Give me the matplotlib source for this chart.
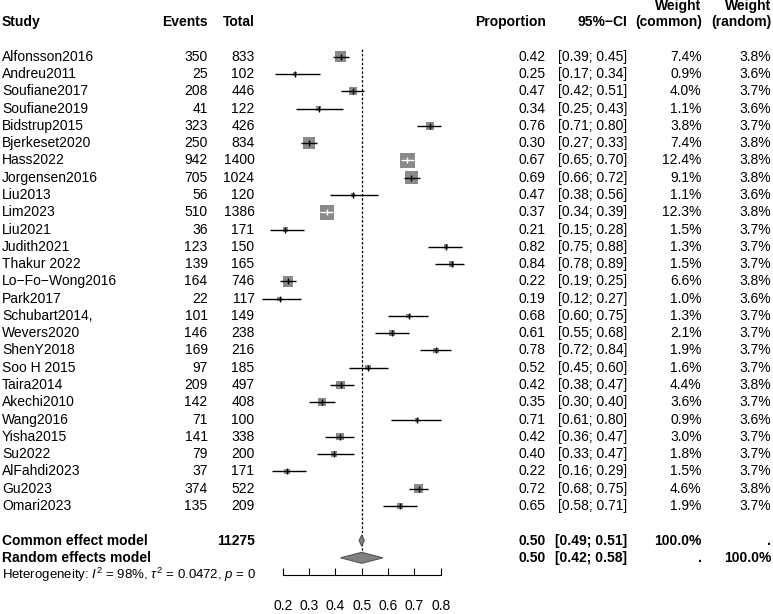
import numpy as np
import matplotlib
matplotlib.use("Agg")
import matplotlib.pyplot as plt

plt.rcParams['font.family'] = ['Liberation Sans', 'DejaVu Sans']
plt.rcParams['mathtext.fontset'] = 'custom'
plt.rcParams['mathtext.rm'] = 'Liberation Sans'
plt.rcParams['mathtext.it'] = 'Liberation Sans:italic'

studies = ["Alfonsson2016", "Andreu2011", "Soufiane2017", "Soufiane2019", "Bidstrup2015",
           "Bjerkeset2020", "Hass2022", "Jorgensen2016", "Liu2013", "Lim2023", "Liu2021",
           "Judith2021", "Thakur 2022", "Lo\u2212Fo\u2212Wong2016", "Park2017", "Schubart2014,",
           "Wevers2020", "ShenY2018", "Soo H 2015", "Taira2014", "Akechi2010", "Wang2016",
           "Yisha2015", "Su2022", "AlFahdi2023", "Gu2023", "Omari2023"]
events = [350, 25, 208, 41, 323, 250, 942, 705, 56, 510, 36, 123, 139, 164, 22, 101,
          146, 169, 97, 209, 142, 71, 141, 79, 37, 374, 135]
totals = [833, 102, 446, 122, 426, 834, 1400, 1024, 120, 1386, 171, 150, 165, 746, 117, 149,
          238, 216, 185, 497, 408, 100, 338, 200, 171, 522, 209]
ci_low = [0.39, 0.17, 0.42, 0.25, 0.71, 0.27, 0.65, 0.66, 0.38, 0.34, 0.15, 0.75, 0.78, 0.19,
          0.12, 0.60, 0.55, 0.72, 0.45, 0.38, 0.30, 0.61, 0.36, 0.33, 0.16, 0.68, 0.58]
ci_high = [0.45, 0.34, 0.51, 0.43, 0.80, 0.33, 0.70, 0.72, 0.56, 0.39, 0.28, 0.88, 0.89, 0.25,
           0.27, 0.75, 0.68, 0.84, 0.60, 0.47, 0.40, 0.80, 0.47, 0.47, 0.29, 0.75, 0.71]
w_common = [7.4, 0.9, 4.0, 1.1, 3.8, 7.4, 12.4, 9.1, 1.1, 12.3, 1.5, 1.3, 1.5, 6.6, 1.0, 1.3,
            2.1, 1.9, 1.6, 4.4, 3.6, 0.9, 3.0, 1.8, 1.5, 4.6, 1.9]
w_random = [3.8, 3.6, 3.7, 3.6, 3.7, 3.8, 3.8, 3.8, 3.6, 3.8, 3.7, 3.7, 3.7, 3.8, 3.6, 3.7,
            3.7, 3.7, 3.7, 3.8, 3.7, 3.6, 3.7, 3.7, 3.7, 3.8, 3.7]

common_est, common_lo, common_hi = 0.50, 0.49, 0.51
random_est, random_lo, random_hi = 0.50, 0.42, 0.58
total_n = 11275
i2, tau2, pval = 98, 0.0472, 0
xticks = [0.2, 0.3, 0.4, 0.5, 0.6, 0.7, 0.8]

W, H = 773, 614
fig = plt.figure(figsize=(W / 100, H / 100), dpi=100)
ax = fig.add_axes([0, 0, 1, 1])

# pixel layout: 0.2 -> 282.7px, 0.8 -> 440.7px ; row 0 -> 56.7px, 17.28px per row
ppu = (440.7 - 282.7) / 0.6
ax.set_xlim(0.2 - 282.7 / ppu, 0.2 + (W - 282.7) / ppu)
row_h = 17.28
ax.set_ylim((H - 56.7) / row_h, -56.7 / row_h)

props = np.array(events) / np.array(totals)
rows = np.arange(len(studies))
fs = 10
tx = ax.get_yaxis_transform()


def px(x):
    return x / W


# headers
ax.text(px(2), -2, "Study", transform=tx, fontsize=fs, fontweight='bold', va='center', ha='left')
ax.text(px(207.5), -2, "Events", transform=tx, fontsize=fs, fontweight='bold', va='center', ha='right')
ax.text(px(254.5), -2, "Total", transform=tx, fontsize=fs, fontweight='bold', va='center', ha='right')
ax.text(px(545.5), -2, "Proportion", transform=tx, fontsize=fs, fontweight='bold', va='center', ha='right')
ax.text(px(627), -2, "95%\u2212CI", transform=tx, fontsize=fs, fontweight='bold', va='center', ha='right')
ax.text(px(701.7), -2.95, "Weight", transform=tx, fontsize=fs, fontweight='bold', va='center', ha='right')
ax.text(px(701.7), -2, "(common)", transform=tx, fontsize=fs, fontweight='bold', va='center', ha='right')
ax.text(px(771.5), -2.95, "Weight", transform=tx, fontsize=fs, fontweight='bold', va='center', ha='right')
ax.text(px(771.5), -2, "(random)", transform=tx, fontsize=fs, fontweight='bold', va='center', ha='right')

# study rows
for i, r in enumerate(rows):
    ax.text(px(2), r, studies[i], transform=tx, fontsize=fs, va='center', ha='left')
    ax.text(px(207.5), r, str(events[i]), transform=tx, fontsize=fs, va='center', ha='right')
    ax.text(px(254.5), r, str(totals[i]), transform=tx, fontsize=fs, va='center', ha='right')
    ax.text(px(545.5), r, f"{props[i]:.2f}", transform=tx, fontsize=fs, va='center', ha='right')
    ax.text(px(627), r, f"[{ci_low[i]:.2f}; {ci_high[i]:.2f}]", transform=tx, fontsize=fs,
            va='center', ha='right')
    ax.text(px(701.7), r, f"{w_common[i]:.1f}%", transform=tx, fontsize=fs, va='center', ha='right')
    ax.text(px(771.5), r, f"{w_random[i]:.1f}%", transform=tx, fontsize=fs, va='center', ha='right')

# squares, sized by common-effect weight
side_px = 4.2 * np.sqrt(np.array(w_common))
ax.scatter(props, rows, marker='s', s=(side_px * 0.72) ** 2, color='#8a8a8a', lw=0, zorder=3)
for i, r in enumerate(rows):
    inside = (ci_high[i] - ci_low[i]) * ppu < side_px[i]
    c = 'white' if inside else 'black'
    ax.hlines(r, ci_low[i], ci_high[i], color=c, lw=1, zorder=4)
    ax.plot(props[i], r, marker='|', ms=4, mew=1, color=c, zorder=5)

# pooled rows
r_c = len(studies) + 1
r_r = r_c + 1
ax.vlines(common_est, -0.45, r_r, color='black', lw=0.9, linestyles=(0, (2, 1.5)), zorder=2)

dh = 5.5 / row_h
for r, est, lo, hi in [(r_c, common_est, common_lo, common_hi), (r_r, random_est, random_lo, random_hi)]:
    ax.fill([lo, est, hi, est], [r, r - dh, r, r + dh], facecolor='#808080',
            edgecolor='#555555', lw=0.8, zorder=6)

ax.text(px(2), r_c, "Common effect model", transform=tx, fontsize=fs, fontweight='bold', va='center')
ax.text(px(254.5), r_c, str(total_n), transform=tx, fontsize=fs, fontweight='bold', va='center', ha='right')
ax.text(px(545.5), r_c, f"{common_est:.2f}", transform=tx, fontsize=fs, fontweight='bold', va='center', ha='right')
ax.text(px(627), r_c, f"[{common_lo:.2f}; {common_hi:.2f}]", transform=tx, fontsize=fs,
        fontweight='bold', va='center', ha='right')
ax.text(px(701.7), r_c, "100.0%", transform=tx, fontsize=fs, fontweight='bold', va='center', ha='right')
ax.text(px(771.5), r_c, ".", transform=tx, fontsize=fs, fontweight='bold', va='center', ha='right')

ax.text(px(2), r_r, "Random effects model", transform=tx, fontsize=fs, fontweight='bold', va='center')
ax.text(px(545.5), r_r, f"{random_est:.2f}", transform=tx, fontsize=fs, fontweight='bold', va='center', ha='right')
ax.text(px(627), r_r, f"[{random_lo:.2f}; {random_hi:.2f}]", transform=tx, fontsize=fs,
        fontweight='bold', va='center', ha='right')
ax.text(px(701.7), r_r, ".", transform=tx, fontsize=fs, fontweight='bold', va='center', ha='right')
ax.text(px(771.5), r_r, "100.0%", transform=tx, fontsize=fs, fontweight='bold', va='center', ha='right')

ax.text(px(2), r_r + 1,
        f"Heterogeneity: $I^2$ = {i2}%, $\\tau^2$ = {tau2}, $p$ = {pval}",
        transform=tx, fontsize=9.5, va='center', ha='left')

# x axis of the forest part
for s in ['top', 'left', 'right']:
    ax.spines[s].set_visible(False)
ax.spines['bottom'].set_position(('data', r_r + 1))
ax.spines['bottom'].set_bounds(xticks[0], xticks[-1])
ax.spines['bottom'].set_linewidth(0.8)
ax.set_xticks(xticks)
ax.set_xticklabels([f"{t:.1f}" for t in xticks])
ax.tick_params(axis='x', direction='in', length=5, width=0.8, pad=17, labelsize=fs)
ax.set_yticks([])

fig.savefig("out.png", dpi=100)
